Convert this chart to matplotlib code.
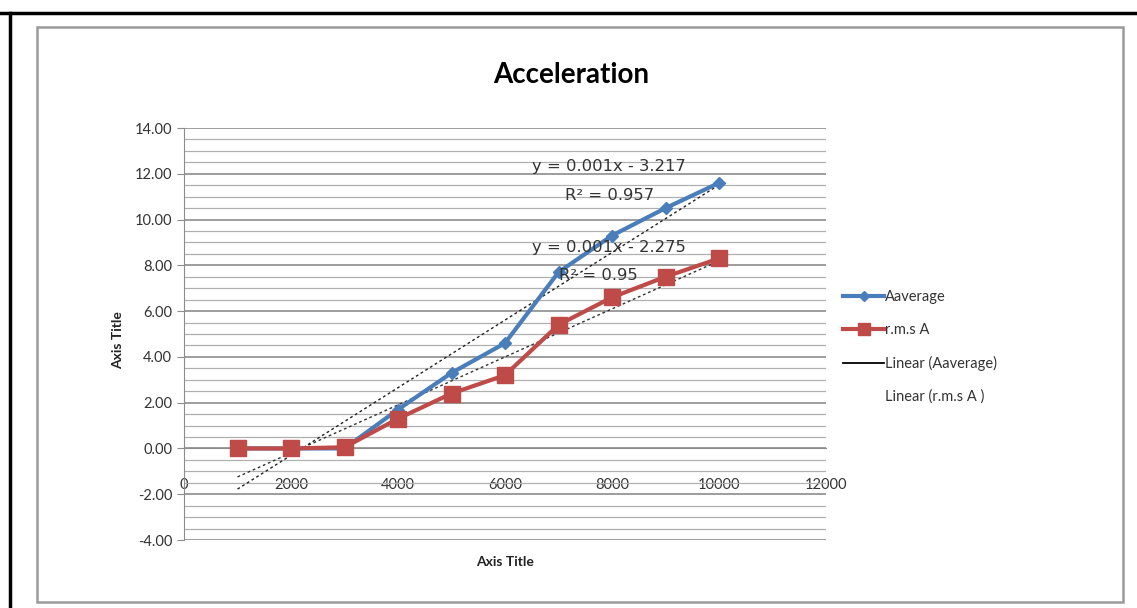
import matplotlib.pyplot as plt
import numpy as np
from matplotlib.lines import Line2D
from matplotlib.patches import Rectangle
from matplotlib.ticker import MultipleLocator, FormatStrFormatter

plt.rcParams["font.family"] = ["Lato", "DejaVu Sans"]
plt.rcParams["axes.unicode_minus"] = False

# data
speed = [1000, 2000, 3000, 4000, 5000, 6000, 7000, 8000, 9000, 10000]
a_average = [0.0, 0.0, 0.0, 1.7, 3.3, 4.6, 7.7, 9.3, 10.5, 11.6]
a_rms = [0.0, 0.0, 0.05, 1.3, 2.4, 3.2, 5.4, 6.6, 7.5, 8.3]
eq_average = ["y = 0.001x - 3.217", "R² = 0.957"]
eq_rms = ["y = 0.001x - 2.275", "R² = 0.95"]

blue = "#4a7ebb"
red = "#be4b48"

fig = plt.figure(figsize=(11.37, 6.08), dpi=100)
fig.patch.set_facecolor("white")

# outer black frame lines and inner grey chart border
fig.add_artist(Line2D([0, 1], [1 - 13 / 608] * 2, color="black", lw=2.5, transform=fig.transFigure))
fig.add_artist(Line2D([10 / 1137] * 2, [0, 1 - 13 / 608], color="black", lw=2.5, transform=fig.transFigure))
fig.add_artist(Rectangle((37 / 1137, 1 - 602 / 608), (1123 - 37) / 1137, (602 - 27) / 608,
                         transform=fig.transFigure, fill=False, edgecolor="#9a9a9a", lw=1.8))

ax = fig.add_axes([184 / 1137, 1 - 540 / 608, (826 - 184) / 1137, (540 - 128) / 608])

# trendlines (least squares fit, as Excel does)
x = np.array(speed)
for y, col in [(a_average, "#222222"), (a_rms, "#333333")]:
    k, b = np.polyfit(x, y, 1)
    ax.plot(x, k * x + b, color=col, lw=1.0, ls=(0, (2, 2)), zorder=3)

ax.plot(speed, a_average, color=blue, lw=3, marker="D", ms=6, zorder=4)
ax.plot(speed, a_rms, color=red, lw=3, marker="s", ms=12, zorder=5)

# trendline labels
eq_font = dict(ha="center", va="center", fontsize=11.8, color="#333333", family="DejaVu Sans", zorder=6)
ax.text(7950, 12.3, eq_average[0], **eq_font)
ax.text(7950, 11.05, eq_average[1], **eq_font)
ax.text(7950, 8.8, eq_rms[0], **eq_font)
ax.text(7750, 7.55, eq_rms[1], **eq_font)

ax.set_xlim(0, 12000)
ax.set_ylim(-4, 14)
ax.xaxis.set_major_locator(MultipleLocator(2000))
ax.yaxis.set_major_locator(MultipleLocator(2))
ax.yaxis.set_minor_locator(MultipleLocator(0.5))
ax.yaxis.set_major_formatter(FormatStrFormatter("%.2f"))

ax.grid(axis="y", which="major", color="#8c8c8c", lw=1.2)
ax.grid(axis="y", which="minor", color="#b0b0b0", lw=0.9)
ax.set_axisbelow(True)

for s in ["top", "right"]:
    ax.spines[s].set_visible(False)
ax.spines["left"].set_color("#8c8c8c")
ax.spines["bottom"].set_position(("data", 0))
ax.spines["bottom"].set_color("#8c8c8c")
ax.tick_params(axis="x", length=0, pad=21, labelsize=10.5, labelcolor="#333333")
ax.tick_params(axis="y", which="major", length=5, color="#8c8c8c", labelsize=10.5, labelcolor="#333333")
ax.tick_params(axis="y", which="minor", length=0)

fig.text(505 / 1137, 1 - 562 / 608, "Axis Title", ha="center", va="center", fontsize=10,
         fontweight="bold", color="#222222")
fig.text(118 / 1137, 1 - 340 / 608, "Axis Title", ha="center", va="center", fontsize=10,
         fontweight="bold", rotation=90, color="#222222")
fig.text(571 / 1137, 1 - 75 / 608, "Acceleration", ha="center", va="center", fontsize=20,
         fontweight="bold", color="black")

handles = [
    Line2D([], [], color=blue, lw=3, marker="D", ms=5),
    Line2D([], [], color=red, lw=3, marker="s", ms=9),
    Line2D([], [], color="black", lw=1.3),
    Line2D([], [], color="none"),
]
labels = ["Aaverage", "r.m.s A", "Linear (Aaverage)", "Linear (r.m.s A )"]
fig.legend(handles, labels, loc="center left", bbox_to_anchor=(830 / 1137, 1 - 347 / 608),
           frameon=False, fontsize=10.5, labelspacing=1.3, handlelength=2.8, handletextpad=0.1,
           labelcolor="#333333")

fig.savefig("out.png", dpi=100)
